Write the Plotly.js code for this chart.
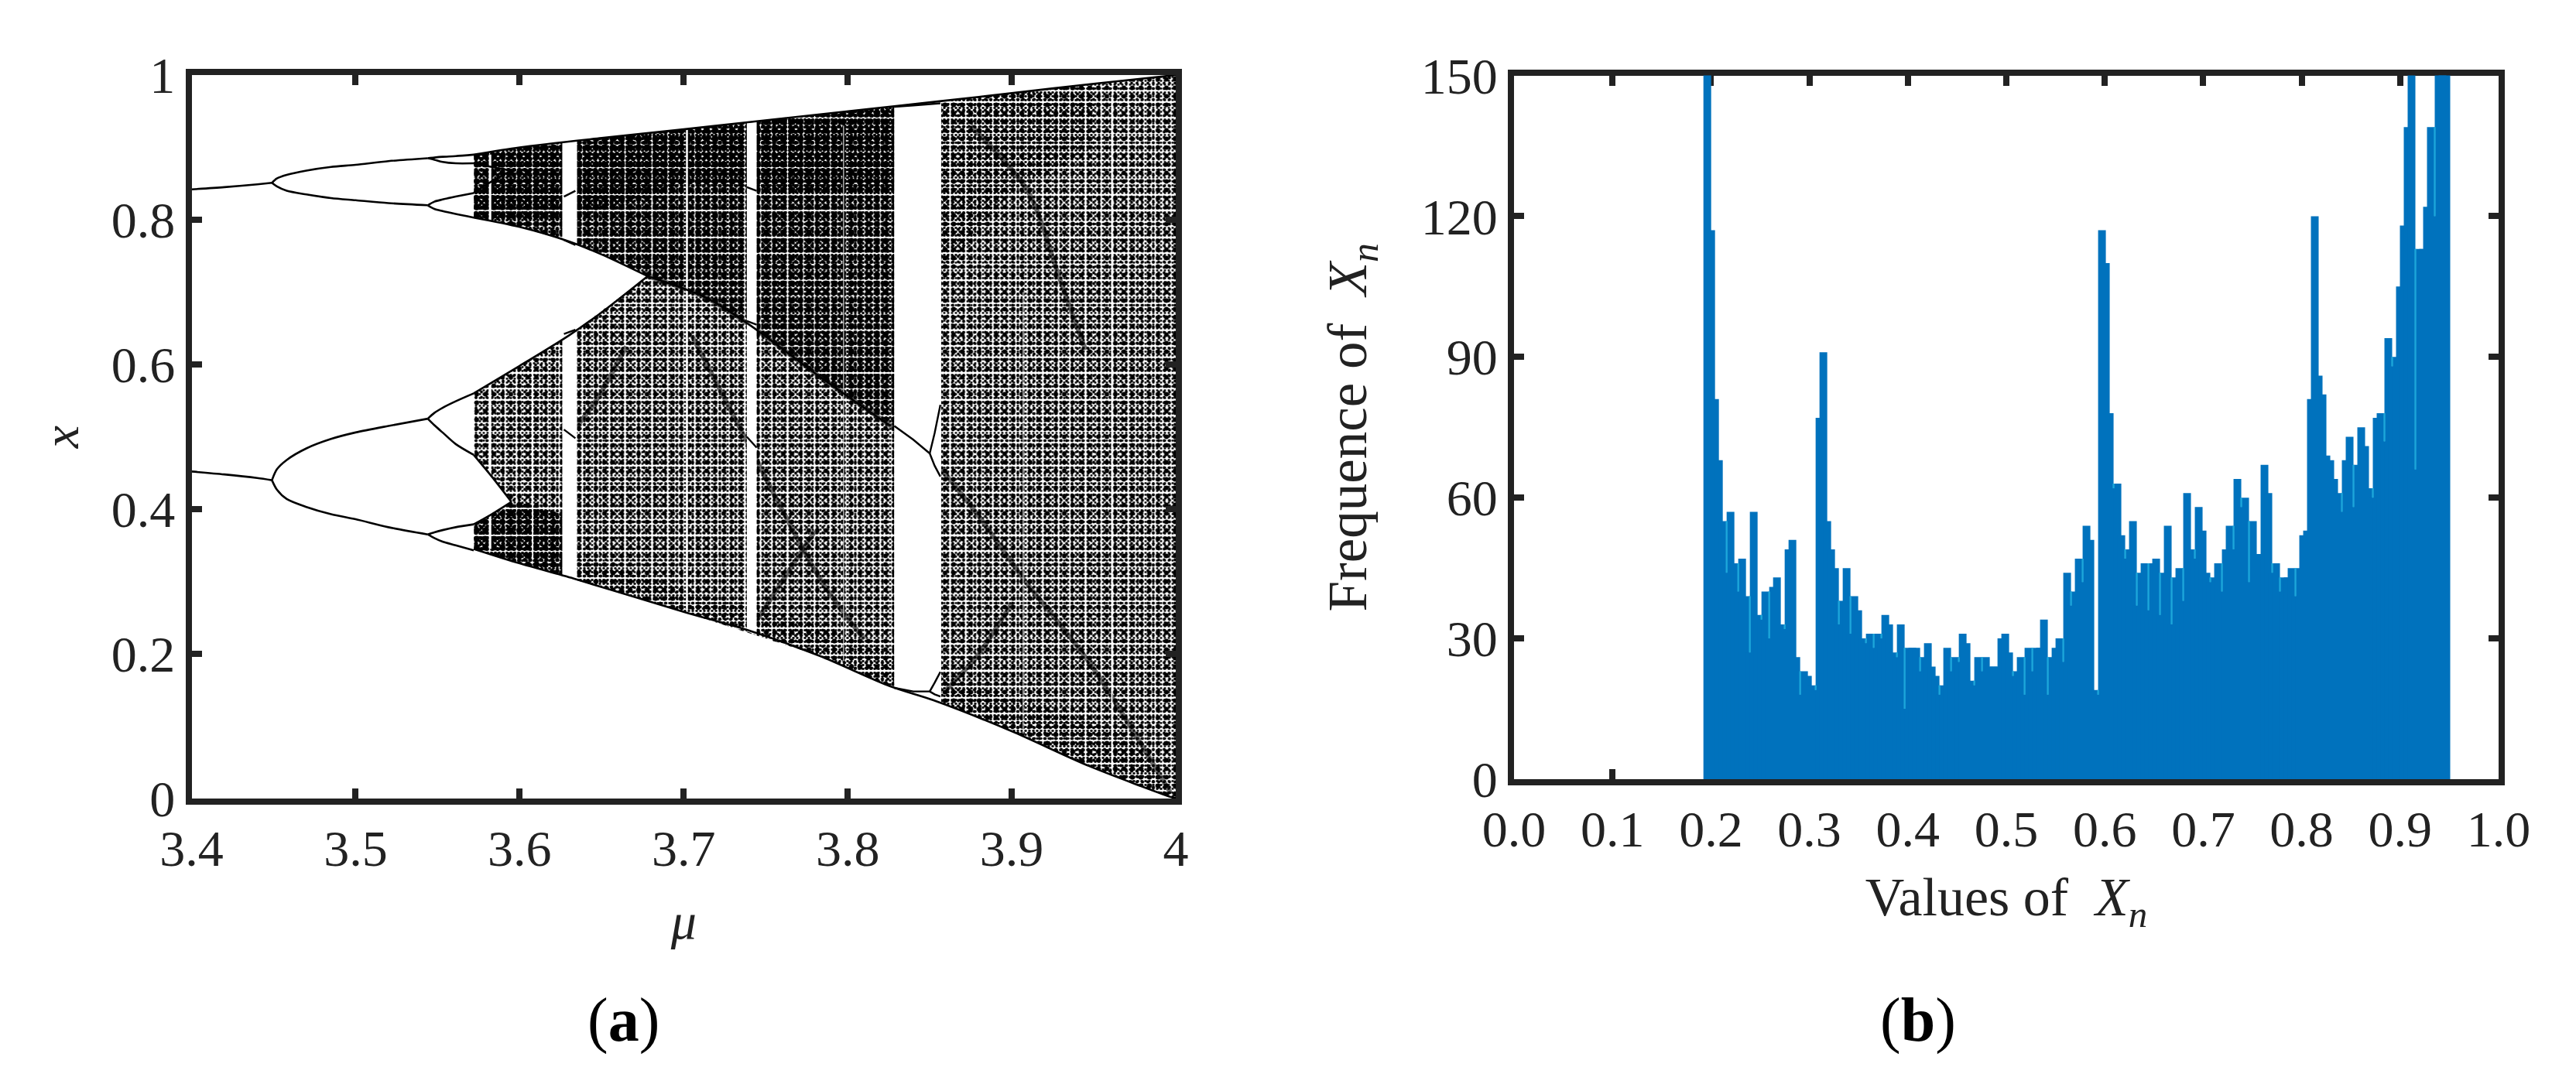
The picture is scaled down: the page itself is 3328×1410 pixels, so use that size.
<!DOCTYPE html>
<html><head><meta charset="utf-8">
<script src="https://cdn.plot.ly/plotly-3.0.1.min.js"></script>
<style>html,body{margin:0;padding:0;background:#fff}</style>
</head><body><div id="plot" style="width:3328px;height:1410px"></div>
<script>
// ---------- panel (a): curves ----------
const p2Mu=[3.4,3.42,3.44,3.449];
const p2Hi=[.842,.845,.849,.851];
const p2Lo=[.452,.448,.443,.44];
const p4Mu=[3.449,3.452,3.458,3.47,3.485,3.5,3.52,3.544];
const p4A=[.851,.857,.862,.868,.873,.876,.881,.885];
const p4B=[.851,.846,.84,.835,.83,.827,.823,.82];
const p4C=[.44,.455,.468,.484,.497,.506,.515,.525];
const p4D=[.44,.427,.414,.403,.393,.386,.375,.365];
const p8Mu=[3.544,3.548,3.553,3.561,3.572];
const p8A=[.885,.886,.887,.888,.89];
const p8B=[.885,.883,.88,.878,.878];
const p8C=[.82,.825,.828,.832,.837];
const p8D=[.82,.815,.812,.808,.803];
const p8E=[.525,.533,.54,.549,.56];
const p8F=[.525,.516,.506,.49,.475];
const p8G=[.365,.368,.371,.375,.379];
const p8H=[.365,.36,.355,.35,.343];
const tipMu=[3.572,3.583,3.595];
const tipA=[.878,.873,.868];
const tipB=[.837,.853,.868];
const tipC=[.475,.445,.41];
const tipD=[.379,.393,.41];

const topMu=[3.572,3.6,3.65,3.7,3.74,3.78,3.8284,3.857,3.9,3.95,4];
const topX=[.89,.9,.913,.925,.935,.945,.957,.964,.975,.988,1];
const lowMu=[3.572,3.6,3.633,3.7,3.74,3.783,3.826,3.852,3.9,3.947,3.997,4];
const lowX=[.345,.325,.304,.258,.232,.197,.155,.136,.093,.045,.002,0];
const curveDMu=[3.678,3.713,3.74,3.783,3.826];
const curveDX=[.722,.693,.655,.583,.515];
const edgeMu=[3.572,3.6,3.63,3.65,3.678];
const edgeUp=[.803,.79,.77,.752,.722];
const edgeDn=[.56,.598,.64,.672,.722];

// chaotic zones as outlines plus an estimated share of black
const zoneUpperMu=[3.572,3.6,3.65,3.7,3.74,3.78,3.8284,3.8284,3.783,3.74,3.713,3.678,3.65,3.63,3.6,3.572,3.572,3.595,3.572];
const zoneUpperX=[.89,.9,.913,.925,.935,.945,.957,.515,.583,.655,.693,.722,.752,.77,.79,.803,.837,.868,.878];
const zoneLowerMu=[3.572,3.6,3.63,3.65,3.678,3.713,3.74,3.783,3.8284,3.8284,3.783,3.74,3.7,3.633,3.6,3.572,3.572,3.595,3.572];
const zoneLowerX=[.56,.598,.64,.672,.722,.693,.655,.583,.515,.153,.197,.232,.258,.304,.325,.345,.379,.41,.475];
const zoneRightMu=[3.857,3.9,3.95,4,4,3.947,3.9,3.857];
const zoneRightX=[.964,.975,.988,1,0,.045,.093,.132];
const stripTopMu=[3.572,3.7,3.78,3.8284,3.8284,3.78,3.7,3.63,3.572];
const stripTopX=[.89,.925,.945,.957,.84,.84,.85,.8,.803];
const stripMidMu=[3.66,3.74,3.8284,3.8284,3.74,3.68];
const stripMidX=[.8,.82,.82,.6,.68,.72];
const stripBand4Mu=[3.572,3.6,3.63,3.63,3.6,3.572];
const stripBand4X=[.345,.325,.305,.39,.41,.379];
const stripEdgeMu=[3.585,3.63,3.678,3.66,3.63,3.6];
const stripEdgeX=[.575,.64,.722,.62,.56,.5];
const stripLowMu=[3.63,3.7,3.783,3.8284,3.8284,3.783,3.7,3.63];
const stripLowX=[.305,.258,.197,.153,.2,.24,.29,.34];
const stripRTopMu=[3.857,3.9,3.95,3.95,3.9,3.857];
const stripRTopX=[.964,.975,.988,.9,.84,.72];
const stripRLowMu=[3.857,3.9,3.947,4,3.97,3.9,3.857];
const stripRLowX=[.132,.093,.045,0,.09,.14,.17];

const darkLines=[
 {mu:[3.678,3.713,3.74,3.783,3.826,3.852,3.88,3.907,3.947,3.997],x:[.722,.693,.655,.583,.515,.467,.39,.304,.189,.007]},
 {mu:[3.705,3.74,3.783,3.81],x:[.64,.487,.304,.22]},
 {mu:[3.63,3.648,3.665],x:[.5,.555,.625]},
 {mu:[3.875,3.91,3.929,3.945],x:[.93,.839,.72,.62]},
 {mu:[3.86,3.88,3.9],x:[.15,.2,.27]},
 {mu:[3.74,3.76,3.78],x:[.23,.3,.37]}
];
const slitMu=[3.582,3.608,3.702,3.7975,3.907,3.961];
const slitLo=[.345,.33,.26,.19,.09,.04];
const slitHi=[.89,.6,.925,.93,.7,.97];
const slitW=[3,1.5,2.5,1,1,1.5];

const windows=[
 {mu:[3.626,3.635,3.635,3.626],x:[.907,.909,.3,.306]},
 {mu:[3.7385,3.7445,3.7445,3.7385],x:[.934,.935,.226,.231]},
 {mu:[3.8284,3.857,3.857,3.8284],x:[.955,.962,.135,.152]}
];
const windowLines=[
 {mu:[3.627,3.634],x:[.832,.84]},{mu:[3.627,3.634],x:[.772,.765]},
 {mu:[3.627,3.634],x:[.642,.648]},{mu:[3.627,3.634],x:[.51,.498]},
 {mu:[3.7385,3.7445],x:[.845,.84]},{mu:[3.7385,3.7445],x:[.66,.655]},{mu:[3.7385,3.7445],x:[.5,.485]},
 {mu:[3.8284,3.84,3.85],x:[.515,.496,.477]},
 {mu:[3.85,3.853,3.8565],x:[.477,.505,.544]},
 {mu:[3.85,3.853,3.8565],x:[.477,.46,.445]},
 {mu:[3.8284,3.84,3.85],x:[.153,.148,.148]},
 {mu:[3.85,3.853,3.8565],x:[.148,.16,.175]},
 {mu:[3.85,3.853,3.8565],x:[.148,.144,.141]},
 {mu:[3.8284,3.84,3.8565],x:[.956,.958,.961]}
];

// ---------- panel (b): histogram counts ----------
const freqFirstCenter=0.1963, freqStep=0.00393;
const freqCounts=[178,
117,81,68,55,44,57,46,40,47,39,27,57,35,34,40,30,41,43,33,
32,49,51,26,18,23,22,20,19,77,
91,55,49,45,33,38,45,31,39,36,
30,29,31,28,31,30,35,33,27,26,
33,15,28,28,28,23,26,29,24,22,
18,20,28,23,26,25,31,29,21,20,
26,23,26,24,24,24,30,31,27,22,
23,26,18,28,23,28,28,34,18,26,
28,30,25,44,37,40,47,42,54,51,
19,18,117,110,78,62,63,52,47,49,
55,37,44,46,36,46,47,35,44,54,
33,43,45,38,61,49,47,58,53,44,
42,43,46,40,49,54,49,64,58,60,
42,55,48,48,67,61,44,46,40,43,
43,45,39,45,52,53,81,120,86,82,
69,68,64,61,57,68,73,58,67,75,
71,62,60,77,78,72,94,88,90,105,
118,139,168,66,113,113,122,139,120,160,172,158];

const muTicks=[3.4,3.5,3.6,3.7,3.8,3.9,4], muLabels=['3.4','3.5','3.6','3.7','3.8','3.9','4'];
const xTicks=[0,.2,.4,.6,.8,1], xLabels=['0','0.2','0.4','0.6','0.8','1'];
const binTicks=[0,.1,.2,.3,.4,.5,.6,.7,.8,.9,1], binLabels=['0.0','0.1','0.2','0.3','0.4','0.5','0.6','0.7','0.8','0.9','1.0'];
const freqTicks=[0,30,60,90,120,150], freqLabels=['0','30','60','90','120','150'];

const BLACK='#000', SERIF='"Liberation Serif","Times New Roman",serif', INK='#222';
const traces=[];
function line(mu,x,w,c,sp){traces.push({type:'scatter',mode:'lines',x:mu,y:x,xaxis:'x',yaxis:'y',line:{color:c||BLACK,width:w||2.6,simplify:false,shape:sp?'spline':'linear',smoothing:0.8},hoverinfo:'skip',showlegend:false});}
function zone(mu,x,share){
  // dot screens of different pitch give a mottled grain
  const s=1-Math.pow(1-share,1/3);
  [['.',5],['.',7],['.',11]].forEach(([shape,size])=>traces.push({type:'scatter',mode:'none',x:mu.concat(mu[0]),y:x.concat(x[0]),xaxis:'x',yaxis:'y',fill:'toself',fillcolor:'rgba(0,0,0,0)',
    fillpattern:{shape:shape,size:size,solidity:s,fgcolor:BLACK,bgcolor:'rgba(0,0,0,0)',fillmode:'replace'},hoverinfo:'skip',showlegend:false}));
}
function white(mu,x){traces.push({type:'scatter',mode:'none',x:mu.concat(mu[0]),y:x.concat(x[0]),xaxis:'x',yaxis:'y',fill:'toself',fillcolor:'#fff',hoverinfo:'skip',showlegend:false});}

zone(zoneUpperMu,zoneUpperX,.78);
zone(zoneLowerMu,zoneLowerX,.56);
zone(zoneRightMu,zoneRightX,.56);
zone(stripTopMu,stripTopX,.8);
zone(stripMidMu,stripMidX,.2);
zone(stripBand4Mu,stripBand4X,.8);
zone(stripEdgeMu,stripEdgeX,.2);
zone(stripLowMu,stripLowX,.5);
zone(stripRTopMu,stripRTopX,.5);
zone(stripRLowMu,stripRLowX,.5);
darkLines.forEach(d=>line(d.mu,d.x,6,'rgba(0,0,0,.55)',true));
slitMu.forEach((m,i)=>line([m,m],[slitLo[i],slitHi[i]],slitW[i],'#fff'));
windows.forEach(w=>white(w.mu,w.x));
[[p2Mu,p2Hi],[p2Mu,p2Lo],[p4Mu,p4A],[p4Mu,p4B],[p4Mu,p4C],[p4Mu,p4D],
 [p8Mu,p8A],[p8Mu,p8B],[p8Mu,p8C],[p8Mu,p8D],[p8Mu,p8E],[p8Mu,p8F],[p8Mu,p8G],[p8Mu,p8H],
 [tipMu,tipA],[tipMu,tipB],[tipMu,tipC],[tipMu,tipD],
 [topMu,topX],[lowMu,lowX],[curveDMu,curveDX],[edgeMu,edgeUp],[edgeMu,edgeDn]
].forEach(([m,v])=>line(m,v,2.6,BLACK,true));
windowLines.forEach(w=>line(w.mu,w.x,2.4));

// panel (b)
const binX=freqCounts.map((_,i)=>freqFirstCenter+i*freqStep);
traces.push({type:'bar',x:binX,y:freqCounts,width:2*freqStep,xaxis:'x2',yaxis:'y2',marker:{color:'#0072BD',line:{width:0}},hoverinfo:'skip',showlegend:false});
const seamX=[],seamY=[];
freqCounts.forEach((v,i)=>{
  if(i===0||i===freqCounts.length-1) return;
  const m=Math.min(freqCounts[i-1],freqCounts[i+1],150);
  if(v<m){seamX.push(binX[i],binX[i],null);seamY.push(v,m,null);}
});
traces.push({type:'scatter',mode:'lines',x:seamX,y:seamY,xaxis:'x2',yaxis:'y2',line:{color:'#1CA6DA',width:2.4},connectgaps:false,hoverinfo:'skip',showlegend:false});

const W=3328,H=1410;
function ax(extra){return Object.assign({showgrid:false,zeroline:false,showline:true,linecolor:INK,linewidth:8,mirror:'allticks',
  ticks:'inside',ticklen:13,tickwidth:8,tickcolor:INK,tickmode:'array',tickfont:{family:SERIF,size:66,color:INK},tickangle:0,automargin:false},extra);}
const layout={width:W,height:H,margin:{l:0,r:0,t:0,b:0,pad:0},paper_bgcolor:'#fff',plot_bgcolor:'#fff',barmode:'overlay',showlegend:false,
  font:{family:SERIF,color:INK},
  xaxis:ax({domain:[247.5/W,1519/W],range:[3.4,4],tickvals:muTicks,ticktext:muLabels,anchor:'y',
    title:{text:'μ',font:{family:SERIF,size:66,color:INK,style:'italic'},standoff:38}}),
  yaxis:ax({domain:[1-1032/H,1-97/H],range:[0,1],tickvals:xTicks,ticktext:xLabels,anchor:'x',
    title:{text:'x',font:{family:SERIF,size:66,color:INK,style:'italic'},standoff:24}}),
  xaxis2:ax({domain:[1956/W,3228/W],range:[0,1],tickvals:binTicks,ticktext:binLabels,anchor:'y2',layer:'below traces',
    title:{text:'Values of  <i>X</i><sub><i>n</i></sub>',font:{family:SERIF,size:70,color:INK},standoff:30}}),
  yaxis2:ax({domain:[1-1007/H,1-97.5/H],range:[0,150],tickvals:freqTicks,ticktext:freqLabels,anchor:'x2',layer:'below traces',
    title:{text:'Frequence of  <i>X</i><sub><i>n</i></sub>',font:{family:SERIF,size:71,color:INK},standoff:50}}),
  annotations:[
   {text:'(<b>a</b>)',xref:'paper',yref:'paper',x:805/W,y:1-1318/H,xanchor:'center',yanchor:'middle',showarrow:false,font:{family:SERIF,size:80,color:'#000'}},
   {text:'(<b>b</b>)',xref:'paper',yref:'paper',x:2478/W,y:1-1318/H,xanchor:'center',yanchor:'middle',showarrow:false,font:{family:SERIF,size:80,color:'#000'}}
  ]};
Plotly.newPlot('plot',traces,layout,{displayModeBar:false,responsive:false});
</script></body></html>
